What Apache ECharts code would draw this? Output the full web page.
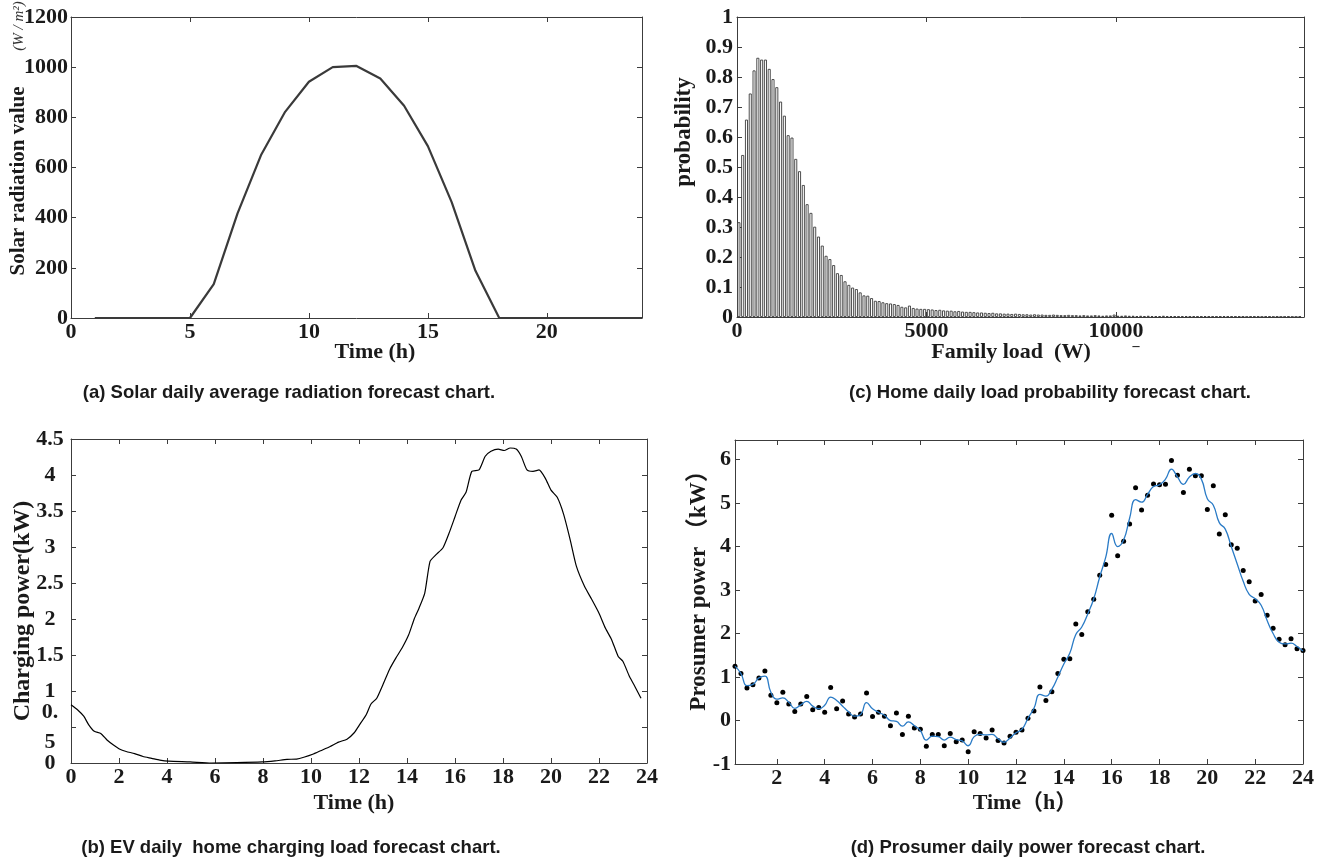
<!DOCTYPE html>
<html>
<head>
<meta charset="utf-8">
<script src="https://cdn.jsdelivr.net/npm/echarts/dist/echarts.min.js"></script>
<style>
html,body{margin:0;padding:0;background:#fff;}
#c{width:1327px;height:861px;}
</style>
</head>
<body>
<div id="c"></div>
<script>
// ---------- DATA ----------
// (a) solar radiation
const solarHours = [1,2,3,4,5,6,7,8,9,10,11,12,13,14,15,16,17,18,19,20,21,22,23,24];
const solarValues = [0,0,0,0,0,135,417,652,822,942,1000,1005,955,846,685,462,188,0,0,0,0,0,0,0];

// (b) EV charging load
const evHours = [0,0.27,0.53,0.74,0.97,1.24,1.5,1.77,2.04,2.3,2.65,3.0,3.36,3.7,4.07,4.96,5.84,6.9,7.96,8.5,9.0,9.4,9.7,10.1,10.4,10.8,11.15,11.5,11.8,12.0,12.3,12.5,12.74,13.0,13.27,13.54,13.8,14.07,14.3,14.5,14.74,14.96,15.2,15.5,15.75,16.0,16.25,16.46,16.7,17.0,17.26,17.5,17.8,18.05,18.3,18.55,18.76,19.0,19.25,19.5,19.77,20.0,20.26,20.53,20.8,21.06,21.4,21.7,22.0,22.27,22.53,22.8,23.0,23.27,23.5,23.75];
const evPower = [0.81,0.74,0.65,0.53,0.44,0.41,0.32,0.25,0.19,0.16,0.13,0.09,0.065,0.04,0.025,0.015,0.0,0.005,0.015,0.03,0.05,0.055,0.08,0.125,0.17,0.23,0.29,0.33,0.42,0.52,0.67,0.82,0.90,1.09,1.30,1.46,1.60,1.78,2.00,2.15,2.36,2.80,2.89,2.99,3.19,3.42,3.65,3.76,4.05,4.07,4.26,4.33,4.36,4.34,4.375,4.36,4.26,4.07,4.05,4.07,3.95,3.79,3.69,3.45,3.10,2.73,2.45,2.27,2.08,1.87,1.71,1.48,1.41,1.20,1.06,0.90];
const evYLabels = [0,1,1.5,2,2.5,3,3.5,4,4.5];
const evYSplitLabel = [0.5];

// (c) home load probability histogram (bins of 100 W starting at 0 W)
const loadBinStart = 0;
const loadBinWidth = 100;
const loadProb = [
0.316,0.54,0.658,0.745,0.822,0.864,0.858,0.858,0.827,0.793,
0.766,0.718,0.671,0.606,0.598,0.527,0.486,0.44,0.376,0.347,
0.301,0.268,0.238,0.204,0.193,0.173,0.146,0.14,0.119,0.107,
0.098,0.093,0.082,0.072,0.071,0.063,0.054,0.053,0.049,0.046,
0.045,0.043,0.04,0.034,0.032,0.038,0.03,0.028,0.027,0.027,
0.026,0.025,0.023,0.024,0.022,0.021,0.021,0.019,0.020,0.018,
0.017,0.017,0.016,0.015,0.015,0.014,0.013,0.014,0.012,0.012,
0.011,0.011,0.010,0.011,0.010,0.009,0.009,0.008,0.009,0.008,
0.008,0.007,0.007,0.008,0.007,0.006,0.006,0.007,0.006,0.006,
0.005,0.006,0.005,0.005,0.006,0.005,0.004,0.005,0.005,0.008,
0.004,0.004,0.005,0.004,0.004,0.003,0.004,0.003,0.004,0.003,
0.003,0.003,0.004,0.003,0.003,0.003,0.002,0.003,0.003,0.002,
0.003,0.002,0.002,0.003,0.002,0.002,0.002,0.002,0.003,0.002,
0.002,0.002,0.002,0.002,0.001,0.002,0.002,0.002,0.001,0.002,
0.002,0.001,0.002,0.001,0.001,0.002,0.001,0.001,0.002];

// (d) prosumer power
const dTimes = [0.25,0.5,0.75,1,1.25,1.5,1.75,2,2.25,2.5,2.75,3,3.25,3.5,3.75,4,4.25,4.5,4.75,5,5.25,5.5,5.75,6,6.25,6.5,6.75,7,7.25,7.5,7.75,8,8.25,8.5,8.75,9,9.25,9.5,9.75,10,10.25,10.5,10.75,11,11.25,11.5,11.75,12,12.25,12.5,12.75,13,13.25,13.5,13.75,14,14.25,14.5,14.75,15,15.25,15.5,15.75,16,16.25,16.5,16.75,17,17.25,17.5,17.75,18,18.25,18.5,18.75,19,19.25,19.5,19.75,20,20.25,20.5,20.75,21,21.25,21.5,21.75,22,22.25,22.5,22.75,23,23.25,23.5,23.75,24];
const dPoints = [1.25,1.08,0.75,0.82,0.98,1.14,0.58,0.41,0.65,0.38,
0.21,0.38,0.55,0.25,0.30,0.19,0.76,0.27,0.45,0.15,
0.08,0.15,0.63,0.09,0.19,0.10,-0.12,0.17,-0.32,0.10,
-0.17,-0.20,-0.59,-0.32,-0.32,-0.58,-0.30,-0.49,-0.45,-0.72,
-0.26,-0.30,-0.40,-0.22,-0.46,-0.52,-0.36,-0.27,-0.22,0.05,
0.22,0.77,0.46,0.66,1.08,1.41,1.42,2.22,1.98,2.50,
2.79,3.34,3.59,4.72,3.79,4.12,4.52,5.35,4.84,5.18,
5.44,5.42,5.43,5.98,5.64,5.24,5.78,5.63,5.63,4.85,
5.40,4.29,4.73,4.04,3.96,3.45,3.19,2.75,2.90,2.42,
2.12,1.87,1.74,1.88,1.65,1.61];
const dCurve = [1.25,1.08,0.80,0.83,0.98,1.02,0.65,0.49,0.52,0.42,
0.28,0.36,0.44,0.33,0.27,0.35,0.54,0.46,0.33,0.20,
0.10,0.14,0.41,0.27,0.19,0.12,0.00,-0.02,-0.13,-0.03,
-0.12,-0.23,-0.45,-0.36,-0.37,-0.45,-0.38,-0.44,-0.47,-0.58,
-0.37,-0.32,-0.33,-0.32,-0.42,-0.50,-0.40,-0.28,-0.20,0.05,
0.28,0.60,0.56,0.72,1.00,1.30,1.55,1.98,2.15,2.45,
2.80,3.30,3.75,4.30,4.00,4.15,4.65,5.08,5.02,5.20,
5.38,5.42,5.55,5.78,5.60,5.43,5.60,5.68,5.55,5.10,
4.95,4.55,4.40,4.00,3.60,3.20,2.90,2.80,2.65,2.30,
2.00,1.80,1.76,1.78,1.70,1.60];
const dTickHours = [2,4,6,8,10,12,14,16,18,20,22,24];

// ---------- CHART ----------
const serif = '"Liberation Serif","Times New Roman",serif';
const axisColor = '#3c3c3c';
const plain = v => String(+(+v).toFixed(6));
const lab = {fontFamily: serif, fontWeight: 'bold', fontSize: 22, color: '#1a1a1a', hideOverlap: false};

function xPair(gi, cfg) {
  const base = {
    gridIndex: gi, type: 'value', min: cfg.min, max: cfg.max, interval: cfg.interval,
    axisLine: {show: true, onZero: false, lineStyle: {color: axisColor, width: 1}},
    axisTick: {show: true, inside: true, length: 5, lineStyle: {color: axisColor}},
    splitLine: {show: false}
  };
  if (cfg.custom) base.axisTick.customValues = cfg.custom;
  const main = Object.assign({}, base, {
    position: 'bottom',
    axisLabel: Object.assign({}, lab, {margin: 3, formatter: plain, showMinLabel: true, showMaxLabel: !!cfg.showMax},
      cfg.custom ? {customValues: cfg.custom} : {})
  });
  const top = Object.assign({}, base, {position: 'top', axisLabel: {show: false}});
  return [main, top];
}
function yPair(gi, cfg) {
  const base = {
    gridIndex: gi, type: 'value', min: cfg.min, max: cfg.max, interval: cfg.interval,
    axisLine: {show: true, onZero: false, lineStyle: {color: axisColor, width: 1}},
    axisTick: {show: true, inside: true, length: 5, lineStyle: {color: axisColor}},
    splitLine: {show: false}
  };
  const main = Object.assign({}, base, {
    position: 'left',
    axisLabel: Object.assign({}, lab, {margin: cfg.margin || 4, showMinLabel: true, showMaxLabel: cfg.showMax !== false,
      align: cfg.align || 'right', formatter: cfg.formatter || plain},
      cfg.custom ? {customValues: cfg.custom} : {})
  });
  const right = Object.assign({}, base, {position: 'right', axisLabel: {show: false}});
  return [main, right];
}

const grids = [
  {left: 71, top: 17, width: 571, height: 301},   // a
  {left: 737, top: 17, width: 567, height: 300},  // c
  {left: 71, top: 439, width: 576, height: 324},  // b
  {left: 735, top: 440, width: 568, height: 324}  // d
];

const xAxes = [].concat(
  xPair(0, {min: 0, max: 24, interval: 5}),
  xPair(1, {min: 0, max: 14960, interval: 5000}),
  xPair(2, {min: 0, max: 24, interval: 2, showMax: true}),
  xPair(3, {min: 0.25, max: 24, custom: dTickHours, showMax: true})
);
const yAxes = [].concat(
  yPair(0, {min: 0, max: 1200, interval: 200, margin: 3}),
  yPair(1, {min: 0, max: 1, interval: 0.1, margin: 4}),
  yPair(2, {min: 0, max: 4.5, interval: 0.5, align: 'center', margin: 21, custom: evYLabels}),
  yPair(3, {min: -1, max: 6.45, interval: 1, margin: 4, showMax: false})
);
// extra left axis on (b) carrying only the wrapped "0.5" label
yAxes.push({
  gridIndex: 2, type: 'value', min: 0, max: 4.5, position: 'left', offset: 0,
  axisLine: {show: false}, axisTick: {show: false}, splitLine: {show: false},
  axisLabel: Object.assign({}, lab, {customValues: evYSplitLabel, margin: 21, align: 'center', lineHeight: 30,
    showMinLabel: true, showMaxLabel: true, formatter: v => plain(v).replace('.', '.\n')})
});

const binCenters = loadProb.map((p, i) => [loadBinStart + loadBinWidth * i + loadBinWidth / 2, p]);

const series = [
  {type: 'line', xAxisIndex: 0, yAxisIndex: 0, data: solarHours.map((h, i) => [h, solarValues[i]]),
   showSymbol: false, lineStyle: {color: '#3a3a3a', width: 2.2}, silent: true},
  {type: 'bar', xAxisIndex: 2, yAxisIndex: 2, data: binCenters, barWidth: 3,
   itemStyle: {color: '#ffffff', borderColor: '#3a3a3a', borderWidth: 0.9}, silent: true},
  {type: 'line', xAxisIndex: 4, yAxisIndex: 4, data: evHours.map((h, i) => [h, evPower[i]]),
   showSymbol: false, smooth: 0.2, lineStyle: {color: '#000', width: 1.2}, silent: true},
  {type: 'line', xAxisIndex: 6, yAxisIndex: 6, data: dTimes.map((h, i) => [h, dCurve[i]]),
   showSymbol: false, smooth: 0.5, lineStyle: {color: '#2a7bc6', width: 1.3}, silent: true},
  {type: 'scatter', xAxisIndex: 6, yAxisIndex: 6, data: dTimes.map((h, i) => [h, dPoints[i]]),
   symbolSize: 5, itemStyle: {color: '#000', opacity: 1}, silent: true}
];

function txt(x, y, text, font, rot, fill) {
  return {type: 'text', x: x, y: y, rotation: rot || 0, silent: true,
    style: {text: text, font: font, fill: fill || '#1a1a1a', align: 'center', verticalAlign: 'middle',
            textAlign: 'center', textVerticalAlign: 'middle'}};
}
const R = Math.PI / 2;
const capFont = 'bold 18.5px "Liberation Sans", Arial, sans-serif';
const graphic = [
  txt(19, 181, 'Solar radiation value', 'bold 21px "Liberation Serif"', R),
  txt(19, 26, '(W / m\u00B2)', 'italic 15px "Liberation Serif"', R, '#333'),
  txt(375, 352, 'Time (h)', 'bold 22px "Liberation Serif"'),
  txt(684, 132, 'probability', 'bold 23px "Liberation Serif"', R),
  txt(1011, 352, 'Family load  (W)', 'bold 22px "Liberation Serif"'),
  txt(1136, 346, '\u2013', 'bold 14px "Liberation Serif"'),
  txt(23, 611, 'Charging power(kW)', 'bold 24px "Liberation Serif"', R),
  txt(354, 803, 'Time (h)', 'bold 22px "Liberation Serif"'),
  txt(699, 585, 'Prosumer power \uFF08kW\uFF09', 'bold 23px "Liberation Serif", "Noto Sans CJK SC"', R),
  txt(1025, 803, 'Time\uFF08h\uFF09', 'bold 22px "Liberation Serif", "Noto Sans CJK SC"'),
  txt(289, 393, '(a) Solar daily average radiation forecast chart.', capFont),
  txt(1050, 393, '(c) Home daily load probability forecast chart.', capFont),
  txt(291, 848, '(b) EV daily  home charging load forecast chart.', capFont),
  txt(1028, 848, '(d) Prosumer daily power forecast chart.', capFont)
];

const chart = echarts.init(document.getElementById('c'), null, {renderer: 'canvas'});
chart.setOption({
  animation: false,
  backgroundColor: '#fff',
  grid: grids,
  xAxis: xAxes,
  yAxis: yAxes,
  series: series,
  graphic: graphic
});
</script>
</body>
</html>
